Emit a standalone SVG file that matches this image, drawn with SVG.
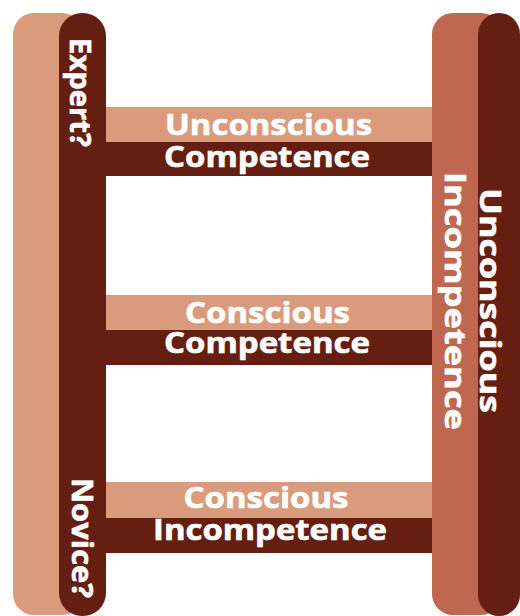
<svg xmlns="http://www.w3.org/2000/svg" width="520" height="616" viewBox="0 0 520 616">
<style>
.peach{fill:#DA9B7D}
.dark{fill:#651F12}
.terra{fill:#C0684F}
text{font-family:"Open Sans","DejaVu Sans",sans-serif;font-weight:700;font-size:28px;fill:#FFFFFF;stroke:#FFFFFF;stroke-width:0.6;text-anchor:middle}
</style>
<rect width="520" height="616" fill="#FFFFFF"/>
<g id="left-post">
<rect class="peach" x="13" y="13" width="70" height="602" rx="21"/>
<rect class="dark" x="59" y="13" width="47" height="603" rx="23"/>
<text transform="translate(70,92.5) rotate(90)" textLength="109" lengthAdjust="spacingAndGlyphs">Expert?</text>
<text transform="translate(72,538) rotate(90)" textLength="120" lengthAdjust="spacingAndGlyphs">Novice?</text>
</g>
<g id="right-post">
<rect class="terra" x="432" y="13" width="70" height="602" rx="21"/>
<rect class="dark" x="478" y="13" width="42" height="603" rx="21"/>
<text transform="translate(480,300.5) rotate(90)" textLength="225" lengthAdjust="spacingAndGlyphs">Unconscious</text>
<text transform="translate(445,301) rotate(90)" textLength="258" lengthAdjust="spacingAndGlyphs">Incompetence</text>
</g>
<g id="rung-unconscious-competence">
<rect class="peach" x="106" y="107" width="326" height="35"/>
<rect class="dark" x="106" y="142" width="326" height="34"/>
<text x="268.5" y="135" textLength="207" lengthAdjust="spacingAndGlyphs">Unconscious</text>
<text x="267" y="167" textLength="206" lengthAdjust="spacingAndGlyphs">Competence</text>
</g>
<g id="rung-conscious-competence">
<rect class="peach" x="106" y="295" width="326" height="35"/>
<rect class="dark" x="106" y="330" width="326" height="35"/>
<text x="267.5" y="323" textLength="165" lengthAdjust="spacingAndGlyphs">Conscious</text>
<text x="267" y="353" textLength="206" lengthAdjust="spacingAndGlyphs">Competence</text>
</g>
<g id="rung-conscious-incompetence">
<rect class="peach" x="106" y="482" width="326" height="36"/>
<rect class="dark" x="106" y="518" width="326" height="35"/>
<text x="266" y="508" textLength="165" lengthAdjust="spacingAndGlyphs">Conscious</text>
<text x="270" y="540" textLength="234" lengthAdjust="spacingAndGlyphs">Incompetence</text>
</g>
<g id="connectors"></g>
</svg>
